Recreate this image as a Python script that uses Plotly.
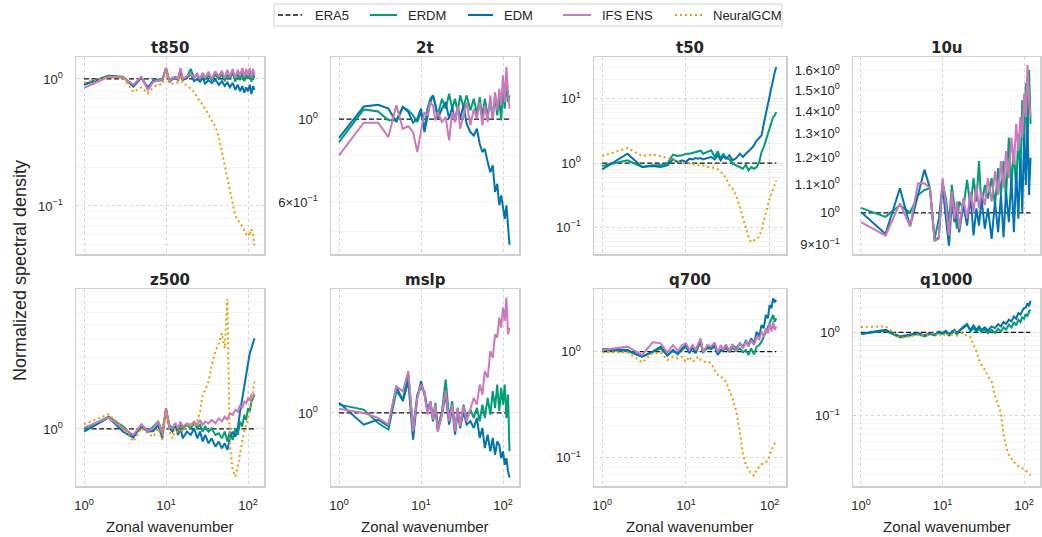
import plotly.graph_objects as go

# ---------------- data ----------------
K = [1, 2, 3, 4, 5, 6, 7, 8, 9, 10, 11, 12, 13, 14, 15, 16, 18, 20, 22, 24, 26, 28, 30, 33, 36,
     40, 44, 48, 52, 56, 60, 65, 70, 75, 80, 85, 90, 95, 100, 105, 110, 115, 120]
ERA5_LEVEL = 1.0  # spectra are normalized by ERA5

T850_ERDM = [0.91, 1.06, 1.04, 0.87, 1.02, 0.86, 0.97, 0.98, 1.00, 1.20, 0.96, 1.02, 1.04, 1.00, 1.18, 1.00, 1.04, 1.20, 1.02, 1.08,
             0.98, 1.10, 1.00, 1.06, 0.98, 1.08, 1.00, 1.10, 0.96, 1.08, 1.00, 1.12, 0.95, 1.10, 0.98, 1.12, 0.96, 1.08, 1.00, 1.14,
             0.95, 1.10, 1.02]
T850_EDM = [0.90, 1.06, 1.03, 0.88, 1.03, 0.84, 0.96, 0.97, 0.98, 1.22, 0.94, 1.00, 1.02, 0.98, 1.15, 0.98, 1.02, 1.10, 0.96, 1.00,
            0.95, 1.02, 0.92, 0.98, 0.93, 0.99, 0.90, 0.96, 0.88, 0.94, 0.86, 0.93, 0.82, 0.90, 0.80, 0.88, 0.78, 0.86, 0.80, 0.90,
            0.76, 0.88, 0.82]
T850_IFS = [0.85, 1.04, 1.03, 0.90, 1.04, 0.82, 0.95, 0.97, 0.99, 1.22, 0.95, 1.02, 1.03, 1.00, 1.22, 1.00, 1.05, 1.10, 1.02, 1.10,
            1.00, 1.12, 1.02, 1.14, 1.00, 1.15, 1.04, 1.16, 1.02, 1.18, 1.04, 1.20, 1.02, 1.18, 1.06, 1.22, 1.04, 1.20, 1.06, 1.22,
            1.02, 1.20, 1.08]
T850_NGCM = [0.935, 1.04, 1.02, 0.79, 0.86, 0.77, 0.86, 0.90, 0.91, 1.14, 0.93, 0.92, 0.93, 0.94, 1.07, 0.92, 0.89, 0.84, 0.79, 0.72,
             0.66, 0.63, 0.58, 0.53, 0.47, 0.42, 0.35, 0.266, 0.20, 0.163, 0.136, 0.104, 0.084, 0.077, 0.074, 0.068, 0.064, 0.060, 0.062, 0.058,
             0.066, 0.060, 0.049]

T2_ERDM = [0.868, 1.061, 1.048, 0.992, 0.992, 1.077, 1.055, 1.023, 0.982, 1.044, 0.942, 1.066, 1.133, 1.157, 1.088, 1.023, 1.133, 1.066, 1.169, 1.066,
           1.133, 1.044, 1.157, 1.077, 1.157, 1.055, 1.133, 1.033, 1.145, 1.012, 1.133, 1.023, 1.110, 1.002, 1.157, 1.023, 1.133, 0.992, 1.205, 1.066,
           1.282, 1.110, 1.157]
T2_EDM = [0.890, 1.081, 1.092, 1.066, 0.982, 1.077, 1.044, 0.978, 1.002, 1.066, 0.923, 1.023, 1.110, 1.157, 1.088, 1.002, 1.066, 1.110, 1.002, 1.077,
          0.982, 1.088, 1.002, 1.088, 0.972, 0.923, 0.904, 0.942, 0.859, 0.816, 0.833, 0.767, 0.721, 0.752, 0.638, 0.671, 0.588, 0.625, 0.576, 0.541,
          0.588, 0.520, 0.461]
T2_IFS = [0.800, 0.978, 0.978, 0.895, 1.088, 0.942, 0.958, 0.923, 0.816, 0.942, 1.044, 1.023, 1.110, 1.088, 0.992, 1.044, 0.982, 1.012, 0.877, 1.044,
          0.982, 1.088, 0.942, 1.023, 1.110, 0.962, 1.066, 1.002, 1.110, 0.962, 1.088, 0.982, 1.157, 1.002, 1.181, 1.055, 1.205, 1.088, 1.308, 1.110,
          1.377, 1.181, 1.066]

T50_ERDM = [0.898, 1.100, 0.867, 0.920, 0.920, 0.976, 1.347, 1.285, 1.316, 1.397, 1.397, 1.447, 1.483, 1.518, 1.555, 1.397, 1.483, 1.574, 1.239, 1.518,
            1.168, 1.397, 1.196, 1.140, 0.976, 0.920, 0.867, 0.816, 0.942, 0.769, 0.867, 0.816, 0.867, 1.036, 1.483, 1.773, 2.250, 2.855, 3.626, 4.336,
            5.182, 5.499, 6.200]
T50_EDM = [0.797, 1.397, 0.867, 0.898, 0.867, 0.920, 1.140, 1.036, 1.100, 1.036, 1.168, 1.140, 1.196, 1.168, 1.196, 1.140, 1.196, 1.239, 1.140, 1.316,
           1.100, 1.285, 1.168, 1.316, 1.100, 1.196, 1.397, 1.239, 1.397, 1.518, 1.669, 1.883, 2.250, 2.447, 2.691, 4.080, 5.840, 8.860, 11.96, 16.10,
           20.50, 26.00, 31.00]
T50_NGCM = [1.285, 1.711, 1.285, 1.347, 1.285, 1.196, 1.100, 1.061, 1.012, 1.000, 0.976, 0.953, 0.942, 0.931, 0.920, 0.920, 0.867, 0.867, 0.836, 0.797,
            0.742, 0.659, 0.588, 0.450, 0.399, 0.314, 0.207, 0.137, 0.096, 0.071, 0.059, 0.064, 0.067, 0.071, 0.090, 0.128, 0.173, 0.220, 0.279, 0.334,
            0.399, 0.477, 0.538]

U10_ERDM = [1.017, 0.987, 1.026, 1.001, 1.061, 1.079, 1.085, 0.918, 0.981, 1.103, 1.049, 0.965, 1.097, 1.026, 0.949, 1.038, 1.015, 1.116, 1.015, 1.122,
            1.038, 1.187, 1.015, 1.097, 1.049, 1.122, 1.026, 1.160, 1.061, 1.187, 1.049, 1.283, 1.097, 1.227, 1.085, 1.298, 1.122, 1.451, 1.227, 1.535,
            1.298, 1.605, 1.342]
U10_EDM = [1.003, 0.933, 1.085, 0.957, 1.061, 1.154, 1.085, 0.912, 0.923, 1.097, 0.981, 0.897, 1.038, 0.970, 1.015, 0.938, 1.026, 0.959, 1.061, 0.928,
           1.015, 0.959, 1.049, 0.949, 1.015, 0.918, 1.038, 0.938, 1.061, 0.923, 1.073, 0.970, 1.122, 0.938, 1.148, 0.981, 1.200, 1.003, 1.298, 1.097,
           1.373, 1.061, 1.200]
U10_IFS = [0.970, 0.928, 1.032, 0.957, 1.103, 1.103, 1.085, 0.912, 0.918, 1.122, 1.026, 0.928, 1.073, 0.981, 1.038, 0.949, 1.049, 0.981, 1.073, 1.003,
           1.097, 1.015, 1.073, 1.026, 1.122, 1.038, 1.148, 1.061, 1.187, 1.085, 1.227, 1.122, 1.283, 1.173, 1.342, 1.227, 1.373, 1.283, 1.484, 1.373,
           1.632, 1.451, 1.373]

Z500_ERDM = [1.000, 1.209, 1.037, 0.889, 1.037, 0.960, 1.037, 1.120, 0.960, 1.340, 1.064, 1.010, 1.091, 0.960, 1.064, 1.010, 1.064, 1.010, 1.091, 1.010,
             1.064, 0.960, 1.037, 0.960, 1.010, 0.912, 0.935, 0.866, 0.960, 0.823, 0.960, 0.844, 1.010, 0.912, 1.120, 1.037, 1.241, 1.149, 1.375, 1.306,
             1.524, 1.604, 1.689]
Z500_EDM = [0.960, 1.191, 0.960, 0.875, 1.064, 0.960, 0.970, 1.064, 0.866, 1.375, 1.010, 0.960, 1.064, 0.912, 1.010, 0.866, 0.960, 0.912, 1.010, 0.866,
            0.960, 0.823, 0.912, 0.802, 0.866, 0.762, 0.823, 0.742, 0.802, 0.723, 0.866, 0.960, 0.889, 1.010, 1.306, 1.605, 1.971, 2.421, 2.824, 3.212,
            3.468, 3.748, 4.048]
Z500_IFS = [1.021, 1.191, 1.010, 0.912, 1.075, 0.970, 1.010, 1.120, 0.935, 1.361, 1.037, 1.010, 1.091, 1.010, 1.120, 1.037, 1.091, 1.064, 1.120, 1.064,
            1.149, 1.064, 1.120, 1.091, 1.149, 1.091, 1.179, 1.120, 1.209, 1.149, 1.273, 1.241, 1.340, 1.306, 1.448, 1.375, 1.524, 1.486, 1.604, 1.564,
            1.689, 1.646, 1.733]
Z500_NGCM = [1.075, 1.254, 1.010, 0.823, 1.010, 0.935, 0.889, 1.010, 0.844, 1.306, 0.960, 0.866, 1.010, 0.935, 1.010, 0.960, 1.064, 1.091, 1.037, 1.120,
             1.306, 1.689, 1.824, 2.075, 2.684, 3.294, 3.748, 4.372, 3.468, 7.420, 0.781, 0.531, 0.480, 0.560, 0.687, 0.823, 0.960, 1.064, 1.179, 1.340,
             1.524, 1.778, 2.075]

MSLP_ERDM = [1.045, 1.018, 0.948, 0.915, 1.122, 1.073, 1.226, 0.923, 1.102, 1.142, 1.122, 1.018, 1.064, 0.974, 1.055, 0.923, 1.009, 1.194, 0.974, 1.064,
             0.907, 1.027, 0.940, 1.045, 0.974, 1.018, 0.974, 1.027, 0.957, 1.045, 0.974, 1.083, 0.991, 1.122, 1.027, 1.162, 1.009, 1.142, 1.045, 1.162,
             0.974, 1.102, 0.816]
MSLP_EDM = [1.055, 0.940, 0.965, 0.932, 1.152, 1.064, 1.183, 0.868, 1.083, 1.183, 1.102, 1.009, 1.055, 0.957, 1.027, 0.907, 0.991, 1.102, 0.940, 1.027,
            0.891, 1.009, 0.923, 1.009, 0.940, 0.957, 0.923, 0.974, 0.876, 0.923, 0.830, 0.891, 0.816, 0.876, 0.801, 0.860, 0.845, 0.787, 0.816, 0.760,
            0.787, 0.734, 0.710]
MSLP_IFS = [1.023, 1.000, 0.974, 0.940, 1.152, 1.122, 1.248, 0.907, 1.083, 1.162, 1.112, 0.991, 1.064, 0.965, 1.045, 0.907, 1.000, 1.122, 0.957, 1.045,
            0.907, 1.027, 0.932, 1.036, 0.957, 1.027, 1.083, 1.045, 1.162, 1.102, 1.248, 1.204, 1.388, 1.339, 1.516, 1.490, 1.657, 1.571, 1.747, 1.628,
            1.842, 1.516, 1.571]

Q700_ERDM = [1.037, 1.015, 0.897, 0.986, 1.075, 0.930, 1.015, 0.964, 1.037, 1.115, 0.964, 1.091, 0.986, 1.115, 1.225, 0.986, 1.075, 1.060, 1.115, 0.964,
             1.015, 1.037, 1.075, 1.000, 1.091, 1.015, 1.075, 0.986, 1.037, 0.930, 1.075, 0.944, 1.115, 1.155, 1.243, 1.385, 1.544, 1.721, 1.851, 2.063,
             2.218, 1.919, 2.063]
Q700_EDM = [1.060, 1.037, 0.897, 1.000, 1.115, 0.917, 1.037, 0.944, 1.075, 1.155, 0.986, 1.115, 0.964, 1.155, 1.260, 1.000, 1.115, 1.075, 1.155, 0.930,
            1.037, 1.075, 1.115, 1.037, 1.155, 1.075, 1.198, 1.115, 1.260, 1.155, 1.336, 1.198, 1.544, 1.385, 1.785, 1.660, 2.218, 2.063, 2.756, 2.563,
            3.185, 2.963, 3.072]
Q700_IFS = [1.037, 1.115, 0.930, 1.225, 1.198, 0.986, 1.155, 1.015, 1.155, 1.198, 1.037, 1.155, 1.037, 1.198, 1.336, 0.986, 1.155, 1.115, 1.225, 0.986,
            1.155, 1.037, 1.173, 1.015, 1.155, 1.037, 1.198, 1.075, 1.243, 1.115, 1.288, 1.155, 1.385, 1.288, 1.544, 1.385, 1.660, 1.489, 1.851, 1.544,
            1.919, 1.601, 1.721]
Q700_NGCM = [0.986, 0.986, 0.793, 0.964, 0.986, 0.834, 0.897, 0.865, 0.897, 0.805, 0.897, 0.805, 0.834, 0.897, 0.834, 0.805, 0.805, 0.776, 0.671, 0.603,
             0.581, 0.560, 0.521, 0.435, 0.363, 0.271, 0.176, 0.106, 0.085, 0.0765, 0.0711, 0.0676, 0.0765, 0.0823, 0.0865, 0.0884, 0.0903, 0.0951, 0.1075, 0.118,
             0.127, 0.1366, 0.1467]

Q1000_ERDM = [0.955, 1.047, 0.871, 0.920, 0.955, 0.895, 0.955, 0.920, 0.991, 0.955, 1.009, 0.920, 0.982, 1.028, 0.938, 1.047, 1.180, 1.259, 1.028, 1.127,
              1.028, 1.107, 1.009, 1.076, 0.982, 1.076, 0.982, 1.107, 1.028, 1.148, 1.076, 1.236, 1.148, 1.330, 1.213, 1.419, 1.330, 1.514, 1.459, 1.660,
              1.556, 1.786, 1.871]
Q1000_EDM = [0.964, 1.076, 0.895, 0.938, 0.982, 0.920, 0.982, 0.938, 1.028, 0.982, 1.047, 0.938, 1.028, 1.076, 0.982, 1.047, 1.127, 1.236, 1.076, 1.213,
             1.076, 1.180, 1.076, 1.148, 1.047, 1.180, 1.127, 1.259, 1.180, 1.330, 1.259, 1.419, 1.355, 1.556, 1.459, 1.706, 1.629, 1.820, 1.959, 1.995,
             2.249, 2.051, 2.399]
Q1000_NGCM = [1.159, 1.180, 0.855, 0.895, 0.938, 0.920, 0.955, 0.982, 0.895, 0.982, 0.895, 0.982, 0.938, 1.028, 0.920, 0.982, 0.982, 0.895, 0.871, 0.711,
              0.592, 0.470, 0.409, 0.356, 0.296, 0.258, 0.171, 0.136, 0.108, 0.059, 0.043, 0.034, 0.0305, 0.0278, 0.0258, 0.0251, 0.0244, 0.0236, 0.0229, 0.0223,
              0.0211, 0.0201, 0.0194]

PANELS = [
    ("t850", T850_ERDM, T850_EDM, T850_IFS, T850_NGCM),
    ("2t", T2_ERDM, T2_EDM, T2_IFS, None),
    ("t50", T50_ERDM, T50_EDM, None, T50_NGCM),
    ("10u", U10_ERDM, U10_EDM, U10_IFS, None),
    ("z500", Z500_ERDM, Z500_EDM, Z500_IFS, Z500_NGCM),
    ("mslp", MSLP_ERDM, MSLP_EDM, MSLP_IFS, None),
    ("q700", Q700_ERDM, Q700_EDM, Q700_IFS, Q700_NGCM),
    ("q1000", Q1000_ERDM, Q1000_EDM, None, Q1000_NGCM),
]
MODELS = ["ERDM", "EDM", "IFS ENS", "NeuralGCM"]
X_TICKS = [1, 10, 100]
X_TICKTEXT = ["10<sup>0</sup>", "10<sup>1</sup>", "10<sup>2</sup>"]

# ---------------- styling ----------------
STYLE = {
    "ERA5": dict(color="#111111", width=1.3, dash="5px,2.5px"),
    "ERDM": dict(color="#029E73", width=2),
    "EDM": dict(color="#0173B2", width=2),
    "IFS ENS": dict(color="#CC78BC", width=2),
    "NeuralGCM": dict(color="#E69F00", width=2, dash="2px,3px"),
}
W, H = 1042, 537
COL_PX = [(76, 264), (331, 519), (594, 786), (853, 1040)]
ROW_PX = [(57, 254), (289, 486)]
TXT = "#262626"
FONT = "Liberation Sans, Arial, sans-serif"
SPINE = "#cfcfcf"


def decade_minors(lo, hi):
    out = []
    for e in range(-3, 3):
        for m in range(2, 10):
            v = m * 10 ** e
            if lo <= v <= hi:
                out.append(v)
    return out


YCFG = {
    "t850": dict(rng=[-1.378, 0.173], ticks=[(0.1, "10<sup>−1</sup>"), (1, "10<sup>0</sup>")], minors=None),
    "2t": dict(rng=[-0.361, 0.166], ticks=[(0.6, "6×10<sup>−1</sup>"), (1, "10<sup>0</sup>")], minors=[0.5, 0.6, 0.7, 0.8, 0.9, 1.0]),
    "t50": dict(rng=[-1.414, 1.648], ticks=[(0.1, "10<sup>−1</sup>"), (1, "10<sup>0</sup>"), (10, "10<sup>1</sup>")], minors=None),
    "10u": dict(rng=[-0.059, 0.224], ticks=[(0.9, "9×10<sup>−1</sup>"), (1, "10<sup>0</sup>"), (1.1, "1.1×10<sup>0</sup>"),
                                             (1.2, "1.2×10<sup>0</sup>"), (1.3, "1.3×10<sup>0</sup>"), (1.4, "1.4×10<sup>0</sup>"),
                                             (1.5, "1.5×10<sup>0</sup>"), (1.6, "1.6×10<sup>0</sup>")],
                minors=[0.9, 1.0, 1.1, 1.2, 1.3, 1.4, 1.5, 1.6]),
    "z500": dict(rng=[-0.382, 0.9375], ticks=[(1, "10<sup>0</sup>")], minors=None),
    "mslp": dict(rng=[-0.168, 0.285], ticks=[(1, "10<sup>0</sup>")], minors=None),
    "q700": dict(rng=[-1.267, 0.591], ticks=[(0.1, "10<sup>−1</sup>"), (1, "10<sup>0</sup>")], minors=None),
    "q1000": dict(rng=[-1.84, 0.52], ticks=[(0.1, "10<sup>−1</sup>"), (1, "10<sup>0</sup>")], minors=None),
}

fig = go.Figure()
axes = {}
annotations = []
for i, (name, *series) in enumerate(PANELS):
    n = i + 1
    xa = "x" if n == 1 else f"x{n}"
    ya = "y" if n == 1 else f"y{n}"
    fig.add_trace(go.Scatter(x=K, y=[ERA5_LEVEL for _ in K], xaxis=xa, yaxis=ya, mode="lines",
                             line=STYLE["ERA5"], name="ERA5", showlegend=False, hoverinfo="skip"))
    for model, vals in zip(MODELS, series):
        if vals is None:
            continue
        fig.add_trace(go.Scatter(x=K, y=vals, xaxis=xa, yaxis=ya, mode="lines",
                                 line=STYLE[model], name=model, showlegend=False, hoverinfo="skip"))
    r, c = divmod(i, 4)
    x0, x1 = COL_PX[c]
    y0, y1 = ROW_PX[r]
    cfg = YCFG[name]
    lo, hi = 10 ** cfg["rng"][0], 10 ** cfg["rng"][1]
    custom_minor = cfg["minors"] is not None
    axes["xaxis" + ("" if n == 1 else str(n))] = dict(
        domain=[x0 / W, x1 / W], anchor=ya, type="log", range=[-0.098, 2.195],
        tickmode="array", tickvals=X_TICKS, ticktext=X_TICKTEXT, showticklabels=(r == 1),
        ticks="", ticklabelstandoff=7, tickfont=dict(family=FONT, size=13, color=TXT),
        showgrid=True, gridcolor="#d6d6d6", griddash="dot", gridwidth=1,
        showline=True, linecolor=SPINE, linewidth=1.5, mirror=True, zeroline=False,
    )
    axes["yaxis" + ("" if n == 1 else str(n))] = dict(
        domain=[1 - y1 / H, 1 - y0 / H], anchor=xa, type="log", range=cfg["rng"],
        tickmode="array", tickvals=[t[0] for t in cfg["ticks"]], ticktext=[t[1] for t in cfg["ticks"]],
        ticks="", ticklabelstandoff=9, tickfont=dict(family=FONT, size=13, color=TXT),
        showgrid=not custom_minor, gridcolor="#d6d6d6", griddash="dot", gridwidth=1,
        minor=dict(tickmode="array", tickvals=(cfg["minors"] if custom_minor else decade_minors(lo, hi)),
                   showgrid=True, gridcolor="#f3f3f3", griddash="solid", gridwidth=1, ticks=""),
        showline=True, linecolor=SPINE, linewidth=1.5, mirror=True, zeroline=False,
    )
    # subplot title
    annotations.append(dict(text=f"<b>{name}</b>", x=(x0 + x1) / 2 / W, y=1 - (y0 - 9) / H,
                            xref="paper", yref="paper", xanchor="center", yanchor="middle", showarrow=False,
                            font=dict(family="DejaVu Sans, sans-serif", size=15, color=TXT)))
    if r == 1:
        annotations.append(dict(text="Zonal wavenumber", x=(x0 + x1) / 2 / W, y=1 - 526 / H,
                                xref="paper", yref="paper", xanchor="center", yanchor="middle", showarrow=False,
                                font=dict(family=FONT, size=15, color=TXT)))

annotations.append(dict(text="Normalized spectral density", x=20 / W, y=1 - 271 / H, xref="paper", yref="paper",
                        textangle=-90, xanchor="center", yanchor="middle", showarrow=False,
                        font=dict(family=FONT, size=18, color=TXT)))

# legend (drawn manually to match positions)
LEGEND_ITEMS = [("ERA5", 278, 302, 313), ("ERDM", 370, 397, 406), ("EDM", 468, 493, 502),
                ("IFS ENS", 563, 591, 600), ("NeuralGCM", 675, 702, 711)]
shapes = [dict(type="rect", xref="paper", yref="paper", x0=274 / W, x1=782 / W, y0=1 - 26 / H, y1=1 - 4 / H,
               line=dict(color="#d0d0d0", width=1), fillcolor="white", layer="above")]
LY = 15
for label, lx0, lx1, tx in LEGEND_ITEMS:
    st = STYLE[label]
    shapes.append(dict(type="line", xref="paper", yref="paper", x0=lx0 / W, x1=lx1 / W, y0=1 - LY / H, y1=1 - LY / H,
                       line=dict(color=st["color"], width=st["width"] if label != "ERA5" else 1.3,
                                 dash=st.get("dash", "solid")), layer="above"))
    annotations.append(dict(text=label, x=tx / W, y=1 - LY / H, xref="paper", yref="paper",
                            xanchor="left", yanchor="middle", showarrow=False,
                            font=dict(family=FONT, size=13, color=TXT)))

fig.update_layout(
    width=W, height=H, autosize=False,
    margin=dict(l=0, r=0, t=0, b=0),
    paper_bgcolor="white", plot_bgcolor="white",
    template="none", showlegend=False, hovermode=False,
    annotations=annotations, shapes=shapes,
    **axes,
)
fig.write_html(
    "out.html",
    config={"displayModeBar": False, "staticPlot": True},
    post_script="document.body.style.margin='0';document.body.style.padding='0';"
                "document.body.style.overflow='hidden';document.documentElement.style.overflow='hidden';",
)
